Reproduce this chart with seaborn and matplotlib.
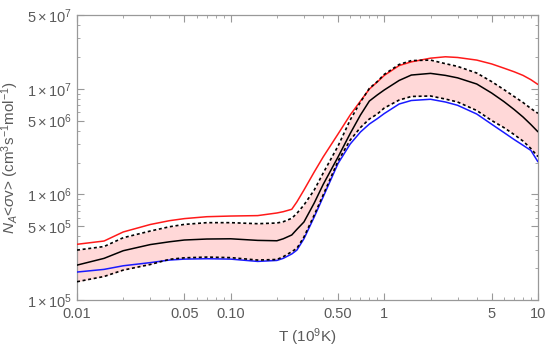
import numpy as np
import pandas as pd
import matplotlib
matplotlib.use('Agg')
import matplotlib.pyplot as plt
import seaborn as sns
from matplotlib.ticker import FixedLocator, NullFormatter

# temperature grid (10^9 K)
T = [0.01, 0.015, 0.02, 0.03, 0.04, 0.05, 0.07, 0.1, 0.15, 0.2, 0.22, 0.25, 0.27, 0.3, 0.35, 0.4,
     0.5, 0.6, 0.7, 0.8, 0.9, 1.0, 1.25, 1.5, 2.0, 2.5, 3.0, 4.0, 5.0, 6.0, 7.0, 8.0, 9.0, 10.0]

# reaction rates, cm^3 s^-1 mol^-1
rate_red = [3.37e5, 3.62e5, 4.41e5, 5.19e5, 5.64e5, 5.90e5, 6.15e5, 6.24e5, 6.30e5, 6.67e5, 6.86e5,
            7.23e5, 8.5e5, 1.10e6, 1.63e6, 2.26e6, 3.73e6, 5.65e6, 7.66e6, 9.95e6, 1.16e7,
            1.34e7, 1.66e7, 1.80e7, 1.95e7, 2.01e7, 1.98e7, 1.87e7, 1.72e7, 1.57e7, 1.45e7,
            1.34e7, 1.22e7, 1.10e7]
rate_mid = [2.14e5, 2.48e5, 2.93e5, 3.35e5, 3.56e5, 3.70e5, 3.78e5, 3.80e5, 3.67e5, 3.64e5, 3.80e5,
            4.13e5, 4.67e5, 5.48e5, 8.29e5, 1.24e6, 2.26e6, 3.77e6, 5.65e6, 7.66e6, 8.74e6,
            9.75e6, 1.20e7, 1.35e7, 1.40e7, 1.34e7, 1.27e7, 1.11e7, 9.12e6, 7.58e6, 6.37e6,
            5.41e6, 4.59e6, 3.92e6]
rate_blue = [1.84e5, 1.95e5, 2.11e5, 2.26e5, 2.39e5, 2.44e5, 2.46e5, 2.44e5, 2.32e5, 2.37e5, 2.48e5,
             2.73e5, 2.97e5, 3.80e5, 6.11e5, 9.45e5, 1.96e6, 3.00e6, 3.90e6, 4.64e6, 5.21e6,
             5.83e6, 7.18e6, 7.75e6, 7.96e6, 7.50e6, 6.98e6, 5.77e6, 4.62e6, 3.86e6, 3.31e6,
             2.92e6, 2.61e6, 2.04e6]
rate_hi = [2.97e5, 3.21e5, 3.89e5, 4.50e5, 4.94e5, 5.20e5, 5.40e5, 5.40e5, 5.28e5, 5.36e5, 5.51e5,
           5.94e5, 6.62e5, 7.94e5, 1.10e6, 1.59e6, 2.87e6, 5.07e6, 7.50e6, 1.01e7, 1.17e7,
           1.37e7, 1.70e7, 1.85e7, 1.87e7, 1.73e7, 1.63e7, 1.41e7, 1.17e7, 9.85e6, 8.46e6,
           7.42e6, 6.51e6, 5.86e6]
rate_lo = [1.49e5, 1.67e5, 1.92e5, 2.17e5, 2.43e5, 2.51e5, 2.55e5, 2.52e5, 2.39e5, 2.42e5, 2.57e5,
           2.87e5, 3.09e5, 3.95e5, 6.38e5, 9.87e5, 2.07e6, 3.27e6, 4.30e6, 5.18e6, 5.77e6,
           6.58e6, 7.83e6, 8.46e6, 8.55e6, 8.00e6, 7.50e6, 6.23e6, 5.01e6, 4.30e6, 3.69e6,
           3.20e6, 2.72e6, 2.28e6]

xticks = [0.01, 0.05, 0.1, 0.5, 1, 5, 10]
xticklabels = ['0.01', '0.05', '0.10', '0.50', '1', '5', '10']
yticks = [1e5, 5e5, 1e6, 5e6, 1e7, 5e7]
yticklabels = [r'$1\times10^{5}$', r'$5\times10^{5}$', r'$1\times10^{6}$',
               r'$5\times10^{6}$', r'$1\times10^{7}$', r'$5\times10^{7}$']

sns.set_theme(style='ticks')
plt.rcParams['font.family'] = ['Liberation Sans', 'DejaVu Sans']
plt.rcParams['mathtext.fontset'] = 'custom'
plt.rcParams['mathtext.rm'] = 'Liberation Sans'
plt.rcParams['mathtext.it'] = 'Liberation Sans:italic'
plt.rcParams['mathtext.sf'] = 'Liberation Sans'

df = pd.DataFrame({'T': T, 'red': rate_red, 'mid': rate_mid, 'blue': rate_blue,
                   'hi': rate_hi, 'lo': rate_lo})

fig = plt.figure(figsize=(5.5, 3.47), dpi=100)
ax = fig.add_axes([0.14, 0.1354, 0.838, 0.8214])

ax.fill_between(df['T'], df['lo'], df['hi'], color='#ffd8d8', lw=0, zorder=1)
sns.lineplot(data=df, x='T', y='red', ax=ax, color='#ff1a1a', lw=1.1, zorder=3)
sns.lineplot(data=df, x='T', y='blue', ax=ax, color='#1a1aff', lw=1.1, zorder=3)
sns.lineplot(data=df, x='T', y='hi', ax=ax, color='black', lw=1.2, zorder=4)
sns.lineplot(data=df, x='T', y='lo', ax=ax, color='black', lw=1.2, zorder=4)
for ln in ax.lines[-2:]:
    ln.set_dashes((1.8, 1.6))
sns.lineplot(data=df, x='T', y='mid', ax=ax, color='black', lw=1.1, zorder=5)

ax.set_xscale('log')
ax.set_yscale('log')
ax.set_xlim(0.01, 10)
ax.set_ylim(1e5, 5e7)

grey = '#5a5a5a'
ax.xaxis.set_major_locator(FixedLocator(xticks))
ax.set_xticklabels(xticklabels)
ax.yaxis.set_major_locator(FixedLocator(yticks))
ax.set_yticklabels(yticklabels)
ax.xaxis.set_minor_locator(FixedLocator([k * 10.0 ** e for e in range(-2, 1) for k in range(2, 10)]))
ax.yaxis.set_minor_locator(FixedLocator([k * 10.0 ** e for e in range(5, 8) for k in range(2, 10)]))
ax.xaxis.set_minor_formatter(NullFormatter())
ax.yaxis.set_minor_formatter(NullFormatter())

ax.tick_params(which='both', direction='in', top=True, right=True, colors='#999999',
               labelcolor=grey, labelsize=10.5)
ax.tick_params(which='major', length=5, width=0.8)
ax.tick_params(which='minor', length=2.5, width=0.6)
ax.tick_params(axis='x', which='major', pad=5)
for sp in ax.spines.values():
    sp.set_color('#999999')
    sp.set_linewidth(0.9)

ax.set_xlabel(r'T (10$^{9}$K)', color=grey, fontsize=11)
ax.set_ylabel(r'$N_A$<$\sigma$v> (cm$^{3}$s$^{-1}$mol$^{-1}$)', color=grey, fontsize=11)

plt.savefig('out.png', dpi=100)
